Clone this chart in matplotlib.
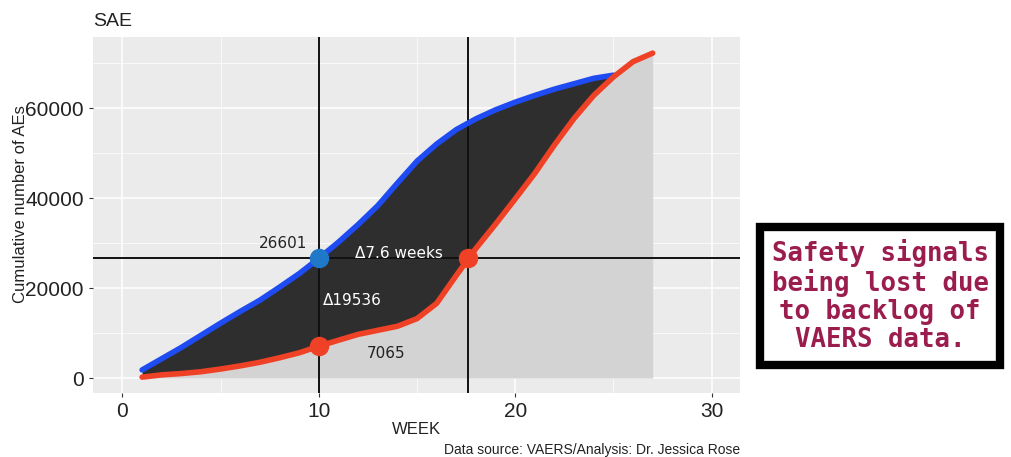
import matplotlib.pyplot as plt
import numpy as np

weeks_blue = [1, 2, 3, 4, 5, 6, 7, 8, 9, 10, 11, 12, 13, 14, 15, 16, 17,
              18, 19, 20, 21, 22, 23, 24, 25]
blue_vals = [1800, 4300, 6800, 9500, 12200, 14800, 17300, 20200, 23200,
             26601, 30200, 34100, 38300, 43300, 48200, 52000, 55200, 57600,
             59600, 61300, 62800, 64200, 65400, 66600, 67300]

weeks_red = list(range(1, 28))
red_vals = [200, 700, 1000, 1400, 2000, 2700, 3500, 4500, 5600, 7065, 8400,
            9700, 10600, 11500, 13200, 16600, 22800, 28800, 34200, 39800,
            45500, 51800, 57700, 62800, 66900, 70300, 72200]

ref_week = 10
lag_week = 17.6
ref_level = 26601
red_at_ref = 7065

plt.rcParams['font.family'] = ['Liberation Sans', 'DejaVu Sans']

fig = plt.figure(figsize=(10.11, 4.57), dpi=100)
ax = fig.add_axes([0.092, 0.140, 0.640, 0.779])
ax.set_facecolor('#EBEBEB')

# light gray area under the red curve
ax.fill_between(weeks_red, 0, red_vals, color='#D3D3D3', lw=0, zorder=1)

# dark band between blue and red
xb = np.array(weeks_blue, dtype=float)
xf = np.linspace(xb[0], xb[-1], 400)
bf = np.interp(xf, xb, blue_vals)
rf = np.interp(xf, weeks_red, red_vals)
ax.fill_between(xf, rf, bf, where=bf >= rf, color='#2E2E2E', lw=0, zorder=2)

ax.axvline(ref_week, color='#111111', lw=1.4, zorder=3)
ax.axvline(lag_week, color='#111111', lw=1.4, zorder=3)
ax.axhline(ref_level, color='#111111', lw=1.4, zorder=3)

ax.plot(weeks_blue, blue_vals, color='#1F4BF2', lw=4, solid_capstyle='round', zorder=4)
ax.plot(weeks_red, red_vals, color='#EE4125', lw=4, solid_capstyle='round', zorder=5)

ax.plot([ref_week], [ref_level], 'o', color='#1F78C8', ms=13, zorder=6)
ax.plot([ref_week, lag_week], [red_at_ref, ref_level], 'o', color='#EE4125', ms=13, zorder=6)

lab = dict(fontsize=11, family='DejaVu Sans', ha='center', va='center', zorder=7)
ax.text(8.2, 29800, "26601", color='#222222', **lab)
ax.text(14.1, 27700, "Δ7.6 weeks", color='white', **lab)
ax.text(11.7, 17300, "Δ19536", color='white', **lab)
ax.text(13.4, 5400, "7065", color='#222222', **lab)

ax.set_xlim(-1.5, 31.45)
ax.set_ylim(-3333, 75778)
ax.set_xticks([0, 10, 20, 30])
ax.set_xticks([5, 15, 25], minor=True)
ax.set_yticks([0, 20000, 40000, 60000])
ax.set_yticks([10000, 30000, 50000, 70000], minor=True)
ax.grid(which='major', color='white', lw=1.1, zorder=0)
ax.grid(which='minor', color='white', lw=0.5, zorder=0)
ax.set_axisbelow(True)
for s in ax.spines.values():
    s.set_visible(False)
ax.tick_params(which='major', length=3, color='#333333', labelsize=15, labelcolor='#222222')
ax.tick_params(which='minor', length=0)

ax.set_xlabel("WEEK", fontsize=12, color='#222222', labelpad=1)
ax.set_ylabel("Cumulative number of AEs", fontsize=12, color='#222222')
ax.yaxis.set_label_coords(-0.1, 0.53)
ax.set_title("SAE", fontsize=14, loc='left', color='#222222', pad=8)

fig.text(0.732, 0.015, "Data source: VAERS/Analysis: Dr. Jessica Rose", fontsize=10,
         color='#222222', ha='right', va='center')

fig.text(0.8705, 0.352, "Safety signals\nbeing lost due\nto backlog of\nVAERS data.",
         family='DejaVu Sans Mono', fontweight='bold', fontsize=18.5, color='#9B1D4E',
         ha='center', va='center', linespacing=1.1,
         bbox=dict(boxstyle='square,pad=0.45', facecolor='white', edgecolor='black', lw=6))

fig.savefig("out.png", dpi=100)
